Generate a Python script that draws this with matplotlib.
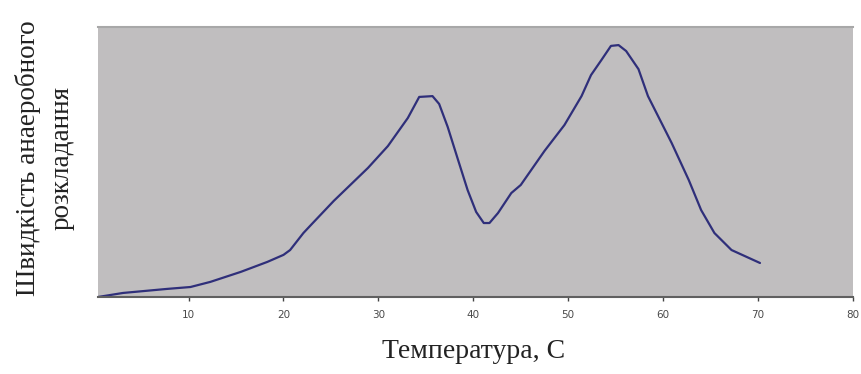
import matplotlib
matplotlib.use('Agg')
import matplotlib.pyplot as plt

# temperature, C
temp = [0.46, 3.1, 7.75, 10.2, 12.3, 15.5, 18.3, 20.0, 20.7, 22.1, 22.9,
        25.3, 28.9, 31.0, 33.1, 34.3, 35.7, 36.4, 37.3, 38.4, 39.4, 40.3,
        41.1, 41.7, 42.6, 44.0, 45.0, 47.5, 49.6, 51.4, 52.4, 53.5, 54.5,
        55.3, 56.1, 57.4, 58.4, 60.9, 62.7, 64.0, 65.4, 67.2, 70.2]
# rate of anaerobic decomposition (relative units)
rate = [0.0, 1.5, 3.0, 3.7, 5.6, 9.3, 13.0, 15.6, 17.4, 23.7, 26.7,
        35.6, 47.8, 55.9, 66.3, 74.1, 74.4, 71.5, 63.0, 50.7, 39.6, 31.5,
        27.4, 27.4, 31.1, 38.5, 41.5, 54.1, 63.7, 74.4, 82.2, 87.8, 93.0,
        93.3, 91.1, 84.4, 74.4, 57.0, 43.3, 32.2, 23.7, 17.4, 12.6]
xticks = [10, 20, 30, 40, 50, 60, 70, 80]

fig = plt.figure(figsize=(8.61, 3.74), dpi=100)
ax = fig.add_axes([98/861, 1-297/374, (853-98)/861, (297-27)/374])
ax.set_facecolor('#c0bebf')
ax.plot(temp, rate, color='#2f2f7a', linewidth=1.6,
        solid_joinstyle='round', solid_capstyle='round')
ax.set_xlim(0.46, 80)
ax.set_ylim(0, 100)
ax.set_xticks(xticks)
ax.set_xticklabels([str(t) for t in xticks], fontsize=7.5, color='#4a4a4a')
ax.set_yticks([])
ax.tick_params(axis='x', length=3, width=1, color='#444444', pad=6)
for s in ['left', 'right']:
    ax.spines[s].set_visible(False)
ax.spines['top'].set_color('#a8a8a8')
ax.spines['top'].set_linewidth(1.5)
ax.spines['bottom'].set_color('#606060')
ax.spines['bottom'].set_linewidth(1.5)

fig.text(474/861, 1-352/374, 'Температура, С', family='Liberation Serif',
         fontsize=20, ha='center', va='center', color='#222222')
fig.text(45/861, 1-158/374, 'Швидкість анаеробного\nрозкладання',
         family='Liberation Serif', fontsize=19.5, ha='center', va='center',
         rotation=90, color='#222222', linespacing=1.45)

fig.savefig('out.png', dpi=100)
